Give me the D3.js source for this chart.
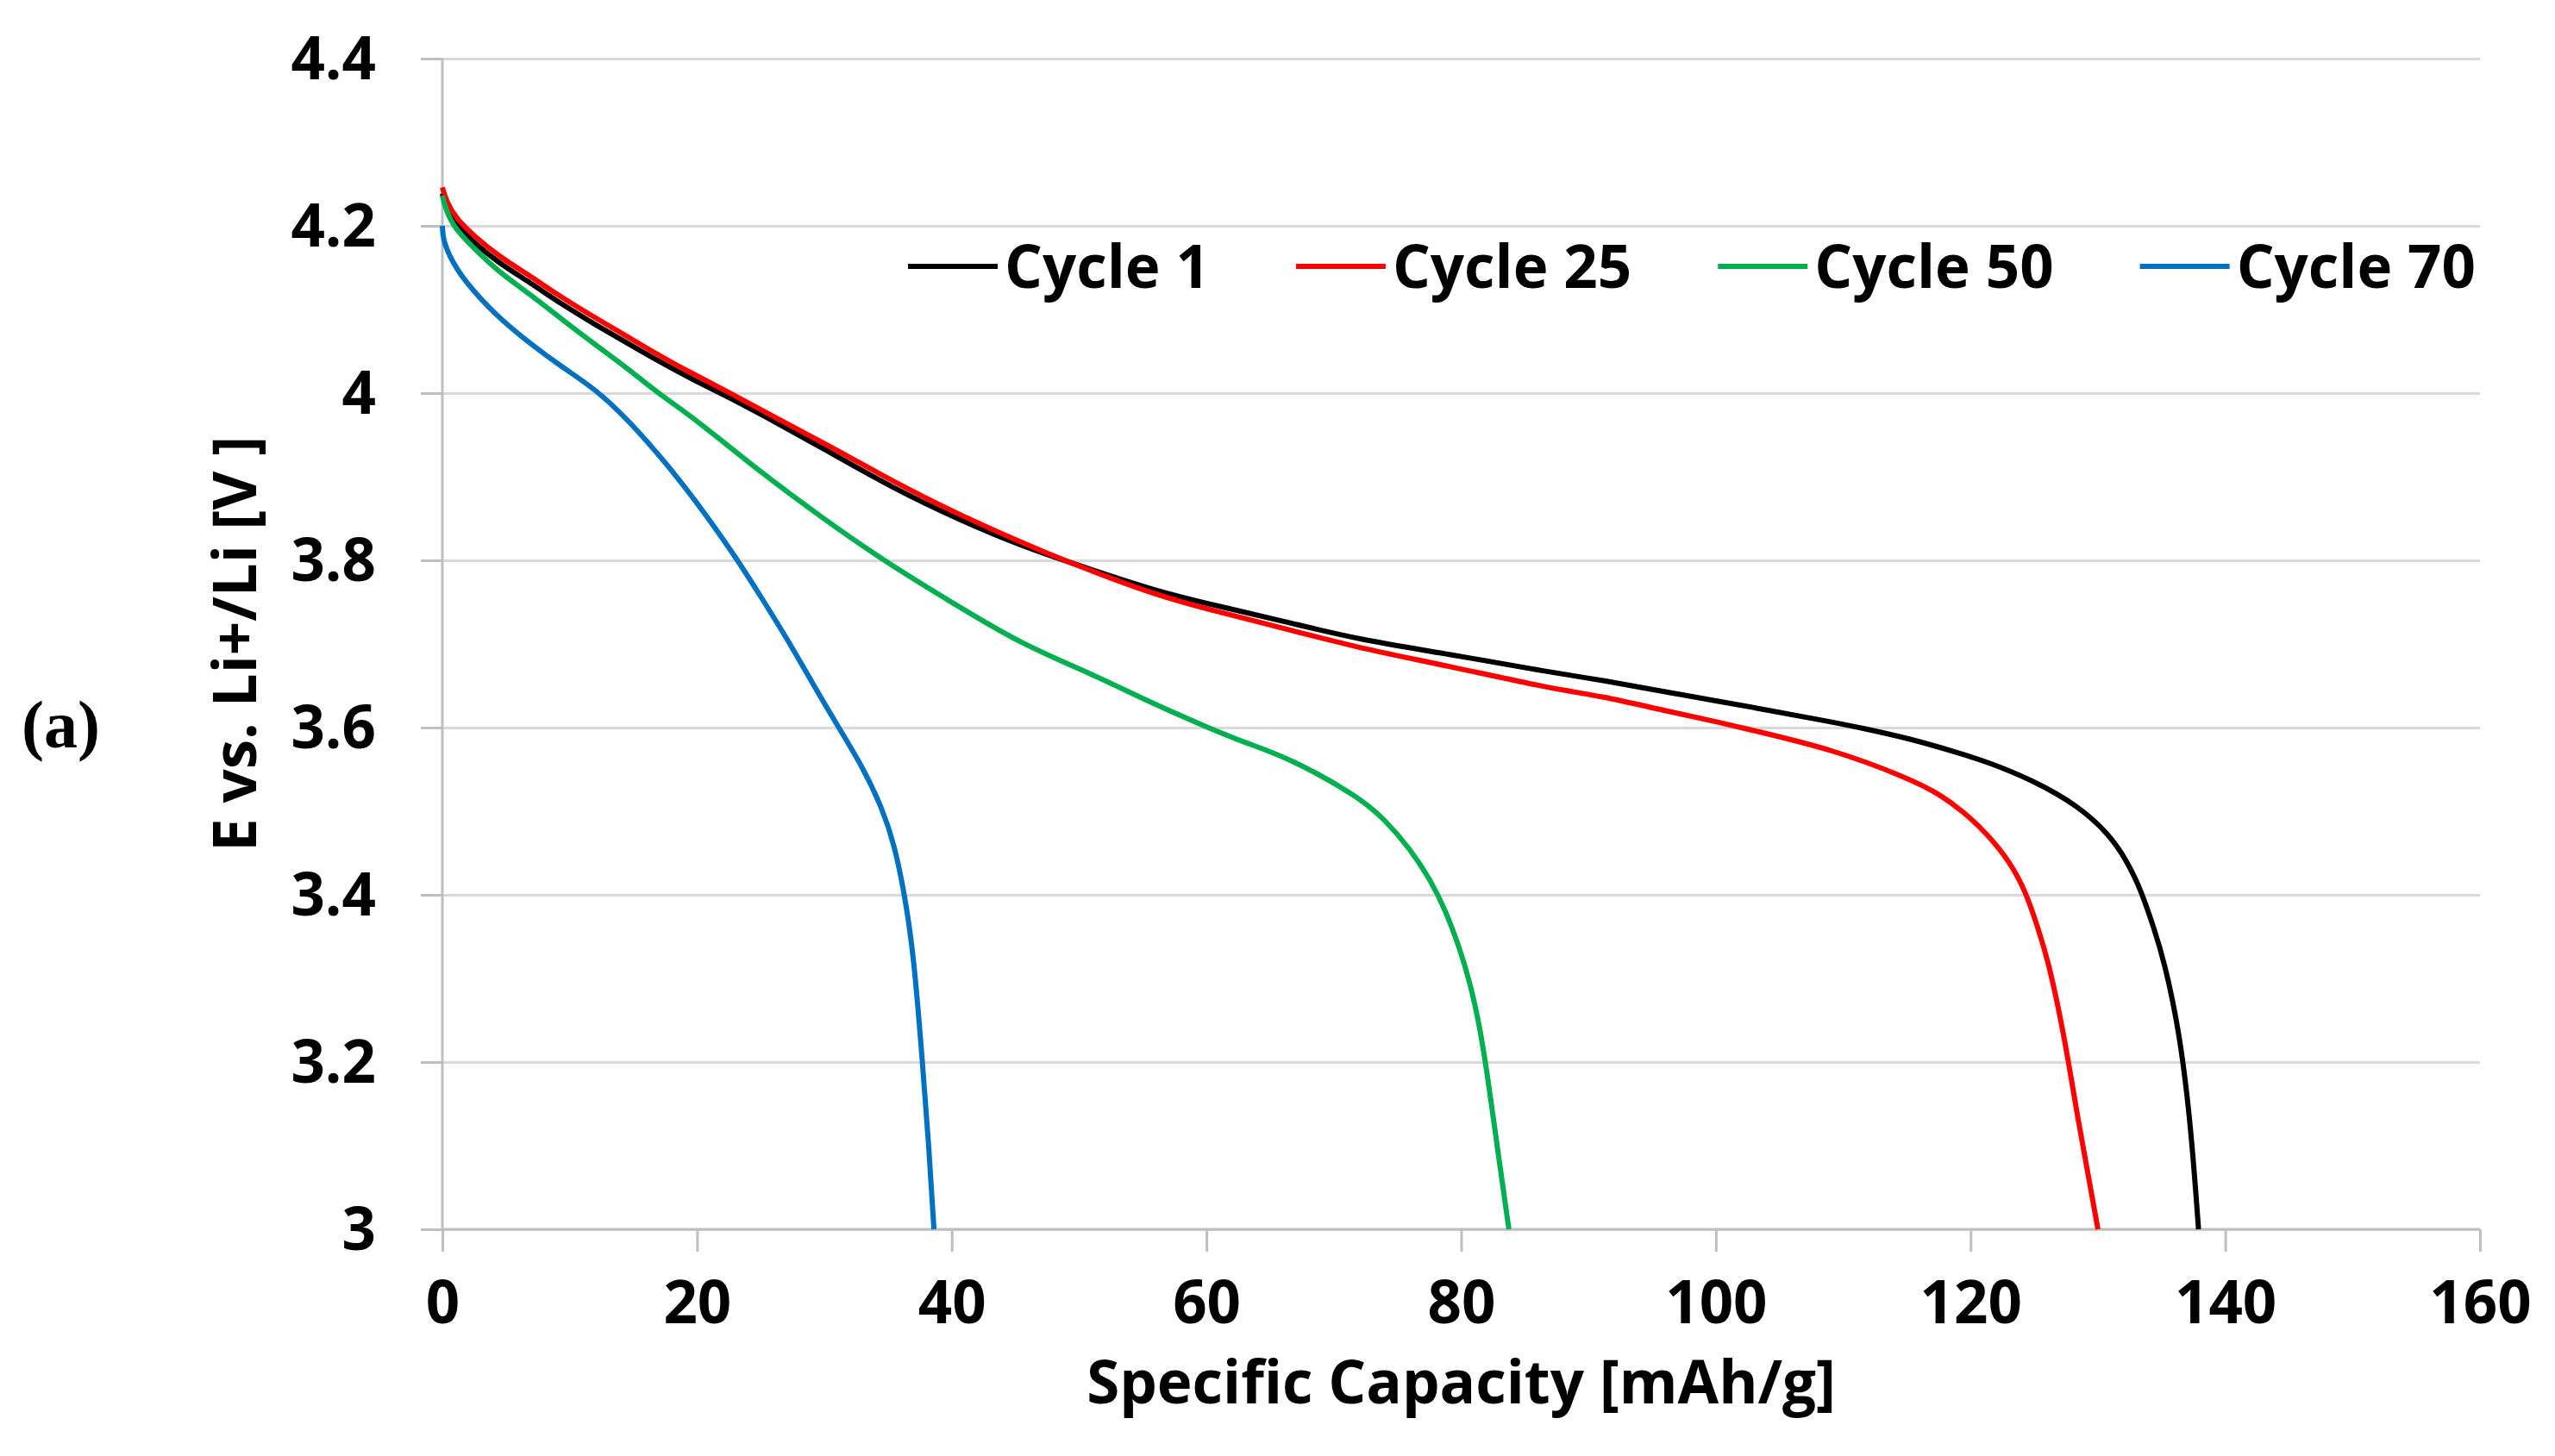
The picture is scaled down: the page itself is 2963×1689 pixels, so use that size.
<!DOCTYPE html>
<html>
<head>
<meta charset="utf-8">
<script src="https://cdn.jsdelivr.net/npm/d3@7"></script>
<style>
  body { margin: 0; background: #fff; }
  text { font-family: "Open Sans", sans-serif; font-weight: 700; fill: #000; }
</style>
</head>
<body>
<svg id="chart"></svg>
<script>
// values
const seriesNames = ["Cycle 1", "Cycle 25", "Cycle 50", "Cycle 70"]
const seriesColors = ["#000000", "#ff0000", "#00b050", "#0070c0"]

const cycle1Cap = [0, 0.3, 1.1, 2.5, 4.3, 7, 9.4, 12, 14.6, 17, 19.8, 22, 25, 30, 35.3, 40.5, 45.7, 48.8, 56, 61, 66.4, 72, 79, 87, 91, 97, 103, 109, 111.3, 115.2, 119, 121.3, 124.9, 128.5, 130.9, 132.3, 133.4, 134.4, 135.2, 136.4, 137.3, 137.9]
const cycle1V = [4.239, 4.222, 4.200, 4.180, 4.157, 4.131, 4.106, 4.082, 4.059, 4.038, 4.015, 3.999, 3.975, 3.933, 3.887, 3.849, 3.816, 3.800, 3.763, 3.745, 3.726, 3.705, 3.688, 3.666, 3.657, 3.640, 3.624, 3.607, 3.600, 3.587, 3.570, 3.559, 3.537, 3.506, 3.472, 3.440, 3.405, 3.360, 3.321, 3.237, 3.124, 3.0]

const cycle25Cap = [0, 0.3, 1.1, 2.5, 4.3, 7, 9.4, 12, 14.6, 17, 19.8, 22.6, 25, 30, 35.3, 40.5, 45.7, 48.8, 56, 61, 66.8, 72, 78.9, 87.2, 91, 96, 100.1, 102.5, 109.2, 115.2, 117.5, 119.4, 121.3, 123.1, 124.3, 125.3, 126.1, 127.3, 128.5, 129.3, 130.0]
const cycle25V = [4.246, 4.230, 4.208, 4.188, 4.165, 4.139, 4.114, 4.090, 4.067, 4.045, 4.022, 4.0, 3.980, 3.940, 3.895, 3.855, 3.820, 3.800, 3.758, 3.738, 3.716, 3.695, 3.674, 3.646, 3.638, 3.620, 3.607, 3.598, 3.574, 3.539, 3.521, 3.500, 3.473, 3.439, 3.405, 3.360, 3.321, 3.237, 3.125, 3.060, 3.0]

const cycle50Cap = [0, 0.3, 1.0, 2.5, 4.25, 7, 9.4, 12, 14.6, 16.9, 19.8, 25, 30, 34.6, 40.5, 45.7, 50.9, 55.3, 60.1, 63, 66.6, 72, 74, 76, 77.7, 78.8, 79.8, 80.7, 81.5, 82.2, 83, 83.75]
const cycle50V = [4.236, 4.218, 4.196, 4.173, 4.147, 4.117, 4.088, 4.058, 4.029, 4.0, 3.970, 3.905, 3.849, 3.800, 3.745, 3.698, 3.665, 3.632, 3.600, 3.582, 3.563, 3.517, 3.490, 3.455, 3.415, 3.380, 3.340, 3.295, 3.240, 3.170, 3.080, 3.0]

const cycle70Cap = [0, 0.05, 0.5, 1.66, 4.25, 7, 9.4, 12, 14.5, 16.5, 18.8, 21, 23.2, 25.2, 27.2, 29.1, 31, 33, 34.5, 35.5, 36.3, 37, 37.7, 38.2, 38.6]
const cycle70V = [4.200, 4.185, 4.165, 4.135, 4.092, 4.058, 4.031, 4.005, 3.969, 3.935, 3.893, 3.848, 3.800, 3.752, 3.703, 3.652, 3.603, 3.553, 3.505, 3.460, 3.400, 3.330, 3.200, 3.100, 3.0]

const xTicks = [0, 20, 40, 60, 80, 100, 120, 140, 160]
const yTicks = [3, 3.2, 3.4, 3.6, 3.8, 4, 4.2, 4.4]
const yTickLabels = ["3", "3.2", "3.4", "3.6", "3.8", "4", "4.2", "4.4"]

const seriesCaps = [cycle1Cap, cycle25Cap, cycle50Cap, cycle70Cap]
const seriesVs = [cycle1V, cycle25V, cycle50V, cycle70V]

const width = 2963
const height = 1689
const fontSize = 69

const svg = d3.select("#chart")
    .attr("width", width)
    .attr("height", height)

svg.append("rect").attr("width", width).attr("height", height).attr("fill", "#fff")

const x = d3.scaleLinear().domain([0, 160]).range([513, 2876])
const y = d3.scaleLinear().domain([3, 4.4]).range([1426, 68])

// horizontal gridlines
svg.append("g")
    .attr("transform", `translate(${x(0)},0)`)
    .call(d3.axisLeft(y).tickValues(yTicks).tickSize(-(x(160) - x(0))).tickFormat(""))
    .call(g => g.select(".domain").remove())
    .call(g => g.selectAll(".tick line").attr("stroke", "#d9d9d9").attr("stroke-width", 3))

// y axis
svg.append("g")
    .attr("transform", `translate(${x(0)},0)`)
    .call(d3.axisLeft(y).tickValues(yTicks).tickSize(25).tickPadding(52)
        .tickFormat((d, i) => yTickLabels[i]))
    .call(g => g.select(".domain").attr("stroke", "#bfbfbf").attr("stroke-width", 3)
        .attr("d", `M0,${y(4.4)}V${y(3)}`))
    .call(g => g.selectAll(".tick line").attr("stroke", "#bfbfbf").attr("stroke-width", 3))
    .call(g => g.selectAll(".tick text")
        .attr("font-size", fontSize)
        .attr("font-family", "'Open Sans', sans-serif")
        .attr("font-weight", 700)
        .attr("fill", "#000")
        .attr("dy", "0.34em"))

// x axis
svg.append("g")
    .attr("transform", `translate(0,${y(3)})`)
    .call(d3.axisBottom(x).tickValues(xTicks).tickSize(26).tickPadding(34).tickFormat(d3.format("d")))
    .call(g => g.select(".domain").attr("stroke", "#bfbfbf").attr("stroke-width", 3)
        .attr("d", `M${x(0)},0H${x(160)}`))
    .call(g => g.selectAll(".tick line").attr("stroke", "#bfbfbf").attr("stroke-width", 3))
    .call(g => g.selectAll(".tick text")
        .attr("font-size", fontSize)
        .attr("font-family", "'Open Sans', sans-serif")
        .attr("font-weight", 700)
        .attr("fill", "#000"))

// curves
const line = d3.line()
    .x(d => x(d[0]))
    .y(d => y(d[1]))
    .curve(d3.curveBasis)

seriesNames.forEach((name, i) => {
    const pts = seriesCaps[i].map((c, j) => [c, seriesVs[i][j]])
    svg.append("path")
        .datum(pts)
        .attr("fill", "none")
        .attr("stroke", seriesColors[i])
        .attr("stroke-width", 6)
        .attr("stroke-linejoin", "round")
        .attr("d", line)
})

// legend
const legend = svg.append("g")
let lx = 1053
const ly = 309
seriesNames.forEach((name, i) => {
    legend.append("line")
        .attr("x1", lx).attr("x2", lx + 104)
        .attr("y1", ly).attr("y2", ly)
        .attr("stroke", seriesColors[i])
        .attr("stroke-width", 6)
    const t = legend.append("text")
        .attr("x", lx + 112)
        .attr("y", ly + 25)
        .attr("font-size", fontSize)
        .text(name)
    lx += 112 + t.node().getComputedTextLength() + 100
})

// axis titles
svg.append("text")
    .attr("x", (x(0) + x(160)) / 2)
    .attr("y", 1628)
    .attr("text-anchor", "middle")
    .attr("font-size", fontSize)
    .text("Specific Capacity [mAh/g]")

svg.append("text")
    .attr("transform", `translate(297,${(y(3) + y(4.4)) / 2}) rotate(-90)`)
    .attr("text-anchor", "middle")
    .attr("font-size", fontSize)
    .text("E vs. Li+/Li [V ]")

// panel label
svg.append("text")
    .attr("x", 25)
    .attr("y", 867)
    .attr("font-size", 78)
    .style("font-family", "'Liberation Serif', 'Times New Roman', serif")
    .style("font-weight", 700)
    .text("(a)")
</script>
</body>
</html>
